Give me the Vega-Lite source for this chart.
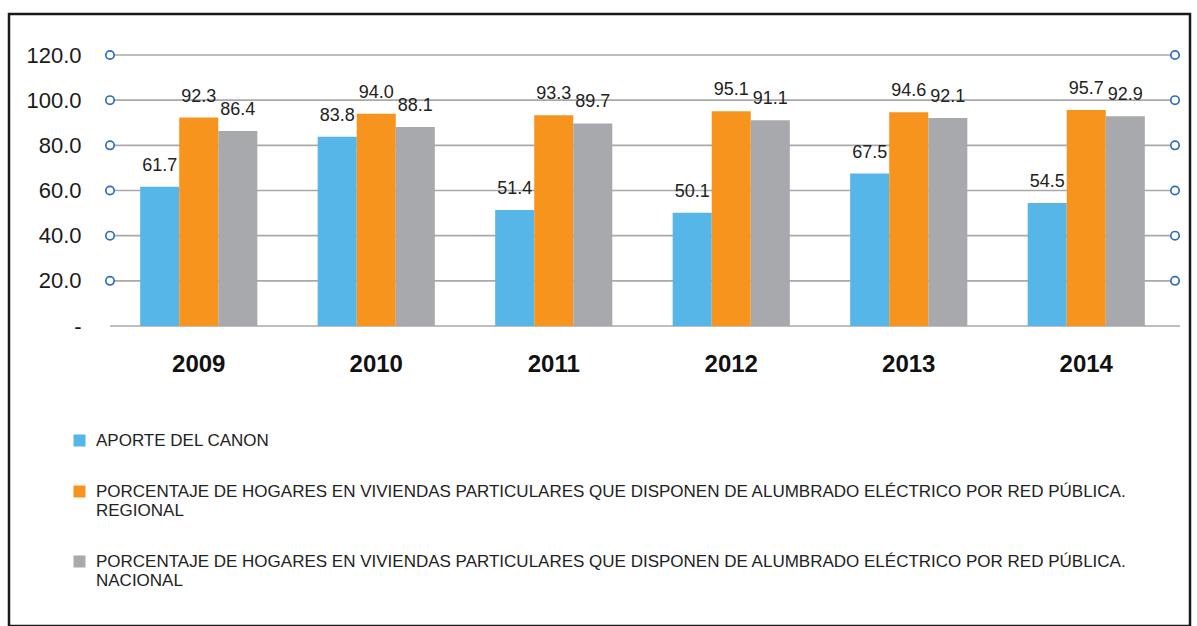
{
  "$schema": "https://vega.github.io/schema/vega-lite/v6.json",
  "width": 1181,
  "height": 612,
  "autosize": {"type": "none"},
  "padding": {"left": 9, "top": 14, "right": 7, "bottom": 0},
  "background": "white",
  "config": {
    "view": {"stroke": "#1a1a1a", "strokeWidth": 2.5},
    "font": "Liberation Sans",
    "axis": {"grid": false}
  },
  "datasets": {
    "bars": [
      {"year": "2009", "series": "APORTE DEL CANON", "value": 61.7},
      {"year": "2009", "series": "PORCENTAJE DE HOGARES EN VIVIENDAS PARTICULARES QUE DISPONEN DE ALUMBRADO ELÉCTRICO POR RED PÚBLICA. REGIONAL", "value": 92.3},
      {"year": "2009", "series": "PORCENTAJE DE HOGARES EN VIVIENDAS PARTICULARES QUE DISPONEN DE ALUMBRADO ELÉCTRICO POR RED PÚBLICA. NACIONAL", "value": 86.4},
      {"year": "2010", "series": "APORTE DEL CANON", "value": 83.8},
      {"year": "2010", "series": "PORCENTAJE DE HOGARES EN VIVIENDAS PARTICULARES QUE DISPONEN DE ALUMBRADO ELÉCTRICO POR RED PÚBLICA. REGIONAL", "value": 94.0},
      {"year": "2010", "series": "PORCENTAJE DE HOGARES EN VIVIENDAS PARTICULARES QUE DISPONEN DE ALUMBRADO ELÉCTRICO POR RED PÚBLICA. NACIONAL", "value": 88.1},
      {"year": "2011", "series": "APORTE DEL CANON", "value": 51.4},
      {"year": "2011", "series": "PORCENTAJE DE HOGARES EN VIVIENDAS PARTICULARES QUE DISPONEN DE ALUMBRADO ELÉCTRICO POR RED PÚBLICA. REGIONAL", "value": 93.3},
      {"year": "2011", "series": "PORCENTAJE DE HOGARES EN VIVIENDAS PARTICULARES QUE DISPONEN DE ALUMBRADO ELÉCTRICO POR RED PÚBLICA. NACIONAL", "value": 89.7},
      {"year": "2012", "series": "APORTE DEL CANON", "value": 50.1},
      {"year": "2012", "series": "PORCENTAJE DE HOGARES EN VIVIENDAS PARTICULARES QUE DISPONEN DE ALUMBRADO ELÉCTRICO POR RED PÚBLICA. REGIONAL", "value": 95.1},
      {"year": "2012", "series": "PORCENTAJE DE HOGARES EN VIVIENDAS PARTICULARES QUE DISPONEN DE ALUMBRADO ELÉCTRICO POR RED PÚBLICA. NACIONAL", "value": 91.1},
      {"year": "2013", "series": "APORTE DEL CANON", "value": 67.5},
      {"year": "2013", "series": "PORCENTAJE DE HOGARES EN VIVIENDAS PARTICULARES QUE DISPONEN DE ALUMBRADO ELÉCTRICO POR RED PÚBLICA. REGIONAL", "value": 94.6},
      {"year": "2013", "series": "PORCENTAJE DE HOGARES EN VIVIENDAS PARTICULARES QUE DISPONEN DE ALUMBRADO ELÉCTRICO POR RED PÚBLICA. NACIONAL", "value": 92.1},
      {"year": "2014", "series": "APORTE DEL CANON", "value": 54.5},
      {"year": "2014", "series": "PORCENTAJE DE HOGARES EN VIVIENDAS PARTICULARES QUE DISPONEN DE ALUMBRADO ELÉCTRICO POR RED PÚBLICA. REGIONAL", "value": 95.7},
      {"year": "2014", "series": "PORCENTAJE DE HOGARES EN VIVIENDAS PARTICULARES QUE DISPONEN DE ALUMBRADO ELÉCTRICO POR RED PÚBLICA. NACIONAL", "value": 92.9}
    ],
    "grid": [{"y": 20}, {"y": 40}, {"y": 60}, {"y": 80}, {"y": 100}, {"y": 120}]
  },
  "resolve": {"scale": {"x": "independent"}, "axis": {"x": "independent"}},
  "layer": [
    {
      "data": {"name": "grid"},
      "mark": {"type": "rule", "color": "#a9a9a9", "strokeWidth": 1.6},
      "encoding": {
        "x": {"datum": 0, "type": "quantitative", "scale": {"domain": [0, 1], "range": [101, 1166], "nice": false, "zero": false}, "axis": null},
        "x2": {"datum": 1},
        "y": {
          "field": "y", "type": "quantitative",
          "scale": {"domain": [0, 120], "range": [312, 41], "nice": false},
          "axis": {
            "title": null, "values": [0, 20, 40, 60, 80, 100, 120],
            "labelExpr": "datum.value == 0 ? '-' : format(datum.value, '.1f')",
            "offset": -72, "labelPadding": 0, "ticks": false, "domain": false,
            "labelFontSize": 22, "labelColor": "#1a1a1a", "labelFont": "Liberation Sans"
          }
        }
      }
    },
    {
      "data": {"values": [{}]},
      "mark": {"type": "rule", "color": "#a9a9a9", "strokeWidth": 1.6},
      "encoding": {
        "x": {"datum": 0, "type": "quantitative", "scale": {"domain": [0, 1], "range": [101, 1166], "nice": false, "zero": false}, "axis": null},
        "x2": {"datum": 1.0047},
        "y": {"datum": 0, "type": "quantitative"}
      }
    },
    {
      "data": {"name": "grid"},
      "mark": {"type": "point", "shape": "circle", "filled": false, "fill": "white", "fillOpacity": 1, "stroke": "#2e6eba", "strokeWidth": 1.7, "size": 70, "opacity": 1},
      "encoding": {
        "x": {"datum": 0, "type": "quantitative", "scale": {"domain": [0, 1], "range": [101, 1166], "nice": false, "zero": false}, "axis": null},
        "y": {"field": "y", "type": "quantitative"}
      }
    },
    {
      "data": {"name": "grid"},
      "mark": {"type": "point", "shape": "circle", "filled": false, "fill": "white", "fillOpacity": 1, "stroke": "#2e6eba", "strokeWidth": 1.7, "size": 70, "opacity": 1},
      "encoding": {
        "x": {"datum": 1, "type": "quantitative", "scale": {"domain": [0, 1], "range": [101, 1166], "nice": false, "zero": false}, "axis": null},
        "y": {"field": "y", "type": "quantitative"}
      }
    },
    {
      "data": {"name": "bars"},
      "mark": {"type": "bar"},
      "encoding": {
        "x": {
          "field": "year", "type": "nominal",
          "scale": {"range": [101, 1166], "paddingInner": 0.34, "paddingOuter": 0.17},
          "axis": {
            "title": null, "orient": "bottom", "offset": -300, "labelPadding": 26,
            "ticks": false, "domain": false, "labelAngle": 0,
            "labelFontSize": 24, "labelFontWeight": "bold", "labelColor": "#111111",
            "labelFont": "Liberation Sans"
          }
        },
        "xOffset": {
          "field": "series", "type": "nominal",
          "sort": [
            "APORTE DEL CANON",
            "PORCENTAJE DE HOGARES EN VIVIENDAS PARTICULARES QUE DISPONEN DE ALUMBRADO ELÉCTRICO POR RED PÚBLICA. REGIONAL",
            "PORCENTAJE DE HOGARES EN VIVIENDAS PARTICULARES QUE DISPONEN DE ALUMBRADO ELÉCTRICO POR RED PÚBLICA. NACIONAL"
          ],
          "scale": {"paddingInner": 0, "paddingOuter": 0}
        },
        "y": {"field": "value", "type": "quantitative"},
        "color": {
          "field": "series", "type": "nominal",
          "scale": {
            "domain": [
              "APORTE DEL CANON",
              "PORCENTAJE DE HOGARES EN VIVIENDAS PARTICULARES QUE DISPONEN DE ALUMBRADO ELÉCTRICO POR RED PÚBLICA. REGIONAL",
              "PORCENTAJE DE HOGARES EN VIVIENDAS PARTICULARES QUE DISPONEN DE ALUMBRADO ELÉCTRICO POR RED PÚBLICA. NACIONAL"
            ],
            "range": ["#55b6e7", "#f7941d", "#a7a9ac"]
          },
          "legend": {
            "title": null, "orient": "none", "legendX": 62, "legendY": 418,
            "direction": "vertical", "symbolType": "square", "symbolSize": 144,
            "symbolStrokeWidth": 0, "labelFontSize": 17, "labelColor": "#222222",
            "labelFont": "Liberation Sans", "labelLimit": 1150, "rowPadding": 33, "labelOffset": 8,
            "labelExpr": "indexof(datum.label, 'PÚBLICA. ') > 0 ? [slice(datum.label, 0, indexof(datum.label, 'PÚBLICA. ') + 8), slice(datum.label, indexof(datum.label, 'PÚBLICA. ') + 9)] : datum.label"
          }
        }
      }
    },
    {
      "data": {"name": "bars"},
      "mark": {"type": "text", "align": "center", "baseline": "alphabetic", "dy": -16, "fontSize": 18, "color": "#222222", "font": "Liberation Sans"},
      "encoding": {
        "x": {"field": "year", "type": "nominal", "scale": {"range": [101, 1166], "paddingInner": 0.34, "paddingOuter": 0.17}, "axis": null},
        "xOffset": {
          "field": "series", "type": "nominal",
          "sort": [
            "APORTE DEL CANON",
            "PORCENTAJE DE HOGARES EN VIVIENDAS PARTICULARES QUE DISPONEN DE ALUMBRADO ELÉCTRICO POR RED PÚBLICA. REGIONAL",
            "PORCENTAJE DE HOGARES EN VIVIENDAS PARTICULARES QUE DISPONEN DE ALUMBRADO ELÉCTRICO POR RED PÚBLICA. NACIONAL"
          ],
          "scale": {"paddingInner": 0, "paddingOuter": 0}
        },
        "y": {"field": "value", "type": "quantitative"},
        "text": {"field": "value", "type": "quantitative", "format": ".1f"}
      }
    }
  ]
}
